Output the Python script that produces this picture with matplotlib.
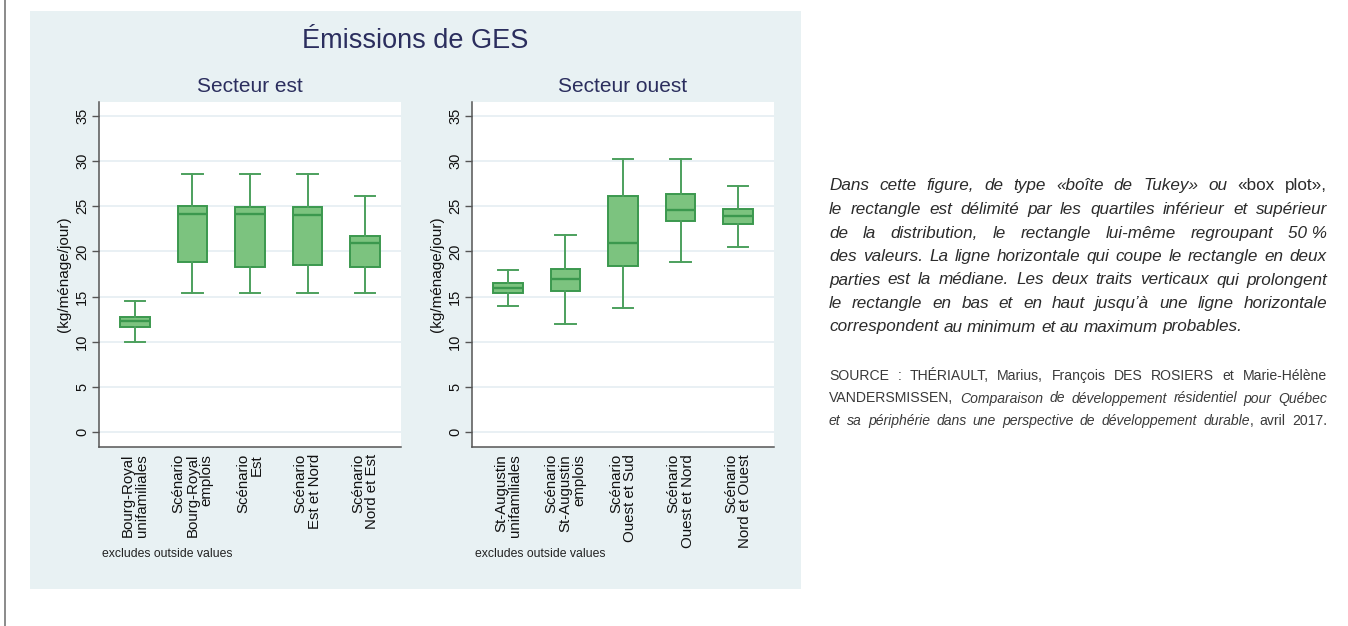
import matplotlib
matplotlib.use("Agg")
import matplotlib.pyplot as plt
from matplotlib import font_manager
from matplotlib.patches import Rectangle
from matplotlib.lines import Line2D

W, H = 1348, 626

# box statistics (kg/ménage/jour)
est_labels = ["Bourg-Royal\nunifamiliales", "Scénario\nBourg-Royal\nemplois",
              "Scénario\nEst", "Scénario\nEst et Nord", "Scénario\nNord et Est"]
est_low = [10.0, 15.4, 15.4, 15.4, 15.4]
est_q1 = [11.65, 18.8, 18.3, 18.45, 18.3]
est_med = [12.3, 24.2, 24.1, 24.0, 20.95]
est_q3 = [12.75, 25.0, 24.95, 24.9, 21.7]
est_high = [14.5, 28.6, 28.6, 28.6, 26.1]

ouest_labels = ["St-Augustin\nunifamiliales", "Scénario\nSt-Augustin\nemplois",
                "Scénario\nOuest et Sud", "Scénario\nOuest et Nord", "Scénario\nNord et Ouest"]
ouest_low = [13.95, 11.95, 13.7, 18.8, 20.45]
ouest_q1 = [15.45, 15.65, 18.35, 23.4, 23.0]
ouest_med = [15.9, 16.9, 20.95, 24.6, 23.9]
ouest_q3 = [16.45, 18.05, 26.1, 26.4, 24.75]
ouest_high = [17.95, 21.85, 30.2, 30.2, 27.3]

y_ticks = [0, 5, 10, 15, 20, 25, 30, 35]

# side note, one list of (style, text) segments per printed line
note_lines = [
    [("italic", "Dans cette figure, de type «boîte de Tukey» ou "), ("normal", "«box plot»,")],
    [("italic", "le rectangle est délimité par les quartiles inférieur et supérieur")],
    [("italic", "de la distribution, le rectangle lui-même regroupant 50\u00a0%")],
    [("italic", "des valeurs. La ligne horizontale qui coupe le rectangle en deux")],
    [("italic", "parties est la médiane. Les deux traits verticaux qui prolongent")],
    [("italic", "le rectangle en bas et en haut jusqu’à une ligne horizontale")],
    [("italic", "correspondent au minimum et au maximum probables.")],
]
source_lines = [
    [("normal", "SOURCE : THÉRIAULT, Marius, François DES ROSIERS et Marie-Hélène")],
    [("normal", "VANDERSMISSEN, "), ("italic", "Comparaison de développement résidentiel pour Québec")],
    [("italic", "et sa périphérie dans une perspective de développement durable"), ("normal", ", avril 2017.")],
]

FILL = "#7cc37f"
EDGE = "#3b984e"
NAVY = "#2b2e5e"
PANEL_BG = "#e8f1f3"
GRID = "#e5eef2"

plt.rcParams["font.family"] = ["Liberation Sans", "DejaVu Sans"]

fig = plt.figure(figsize=(W / 100, H / 100), dpi=100)
fig.patch.set_facecolor("white")

# graph background and the thin frame line on the left
fig.patches.append(Rectangle((30 / W, 1 - 589 / H), 771 / W, 578 / H,
                             transform=fig.transFigure, facecolor=PANEL_BG,
                             edgecolor="none", zorder=-5))
fig.lines.append(Line2D([5 / W, 5 / W], [0, 1], transform=fig.transFigure,
                        color="#777777", lw=1.2, zorder=-5))

fig.text(415 / W, 1 - 48 / H, "Émissions de GES", ha="center", va="baseline",
         fontsize=19.5, color=NAVY)


def box_panel(left_px, title, labels, low, q1, med, q3, high):
    ax = fig.add_axes([left_px / W, 1 - 447 / H, 302 / W, 345 / H])
    ax.set_facecolor("white")
    stats = []
    for i in range(len(labels)):
        stats.append(dict(whislo=low[i], q1=q1[i], med=med[i], q3=q3[i],
                          whishi=high[i], fliers=[]))
    pos = list(range(1, len(labels) + 1))
    ax.bxp(stats, positions=pos, widths=0.52, capwidths=0.35,
           patch_artist=True, showfliers=False,
           boxprops=dict(facecolor=FILL, edgecolor=EDGE, lw=1.4),
           medianprops=dict(color=EDGE, lw=1.7),
           whiskerprops=dict(color="#4ca05d", lw=1.4),
           capprops=dict(color="#4ca05d", lw=1.4))
    ax.set_xlim(0.375, len(labels) + 0.625)
    ax.set_ylim(-1.66, 36.55)
    ax.set_yticks(y_ticks)
    ax.set_yticklabels([str(t) for t in y_ticks], rotation=90, va="center",
                       fontsize=10.5, color="#111111")
    ax.yaxis.grid(True, color=GRID, lw=1.2)
    ax.set_axisbelow(True)
    ax.tick_params(axis="y", direction="out", length=5, width=1,
                   color="#555555", pad=2)
    ax.set_xticks(pos)
    ax.set_xticklabels(labels, rotation=90, ha="center", va="top",
                       multialignment="right", linespacing=1.0,
                       fontsize=10.8, color="#111111")
    ax.tick_params(axis="x", length=0, pad=5)
    for s in ("top", "right"):
        ax.spines[s].set_visible(False)
    for s in ("left", "bottom"):
        ax.spines[s].set_color("#555555")
        ax.spines[s].set_linewidth(1.1)
    ax.set_ylabel("(kg/ménage/jour)", fontsize=11, color="#111111")
    ax.yaxis.set_label_coords(-0.093, 0.5)
    ax.set_title(title, fontsize=15, color=NAVY, pad=7)
    fig.text((left_px + 3) / W, 1 - 554 / H, "excludes outside values",
             ha="left", va="center", fontsize=8.8, color="#222222")
    return ax


box_panel(99, "Secteur est", est_labels, est_low, est_q1, est_med, est_q3, est_high)
box_panel(472, "Secteur ouest", ouest_labels, ouest_low, ouest_q1, ouest_med,
          ouest_q3, ouest_high)

# ---- justified side text ----
renderer = fig.canvas.get_renderer()


def tokenize(segments):
    tokens = []
    join = False
    for style, text in segments:
        parts = text.split(" ")
        for i, p in enumerate(parts):
            if p == "":
                continue
            if i == 0 and join and tokens:
                tokens[-1].append((p, style))
            else:
                tokens.append([(p, style)])
        join = not text.endswith(" ")
    return tokens


def text_width(s, style, size, family):
    t = fig.text(0, 0, s, fontsize=size, style=style, family=family)
    w = t.get_window_extent(renderer=renderer).width
    t.remove()
    return w


def paragraph(lines, x0, x1, baselines, size, family, color, justify_last):
    toks = [tokenize(l) for l in lines]
    # shrink the size if a line would not fit with normal spaces
    natural = []
    for tk in toks:
        w = sum(text_width(p, st, size, family) for tok in tk for p, st in tok)
        natural.append(w + (len(tk) - 1) * 0.278 * size * 100 / 72)
    widest = max(natural)
    if widest > (x1 - x0) * 0.97:
        size = size * (x1 - x0) * 0.97 / widest
    space = 0.278 * size * 100 / 72
    for n, (tk, yb) in enumerate(zip(toks, baselines)):
        widths = [[text_width(p, st, size, family) for p, st in tok] for tok in tk]
        total = sum(sum(w) for w in widths)
        last = n == len(toks) - 1
        if (not last or justify_last) and len(tk) > 1:
            gap = (x1 - x0 - total) / (len(tk) - 1)
        else:
            gap = space
        x = x0
        for tok, ws in zip(tk, widths):
            for (p, st), w in zip(tok, ws):
                fig.text(x / W, 1 - yb / H, p, ha="left", va="baseline",
                         fontsize=size, style=st, family=family, color=color)
                x += w
            x += gap


names = {f.name for f in font_manager.fontManager.ttflist}
src_family = "Liberation Sans Narrow" if "Liberation Sans Narrow" in names else "Liberation Sans"

paragraph(note_lines, 829, 1327, [190.5, 214, 237.5, 261, 284.5, 308, 331.5],
          13, "Liberation Sans", "#2b2b2b", False)
paragraph(source_lines, 829, 1327, [380, 402.5, 425], 12, src_family,
          "#3a3a3a", True)

fig.savefig("out.png", dpi=100, facecolor="white")
